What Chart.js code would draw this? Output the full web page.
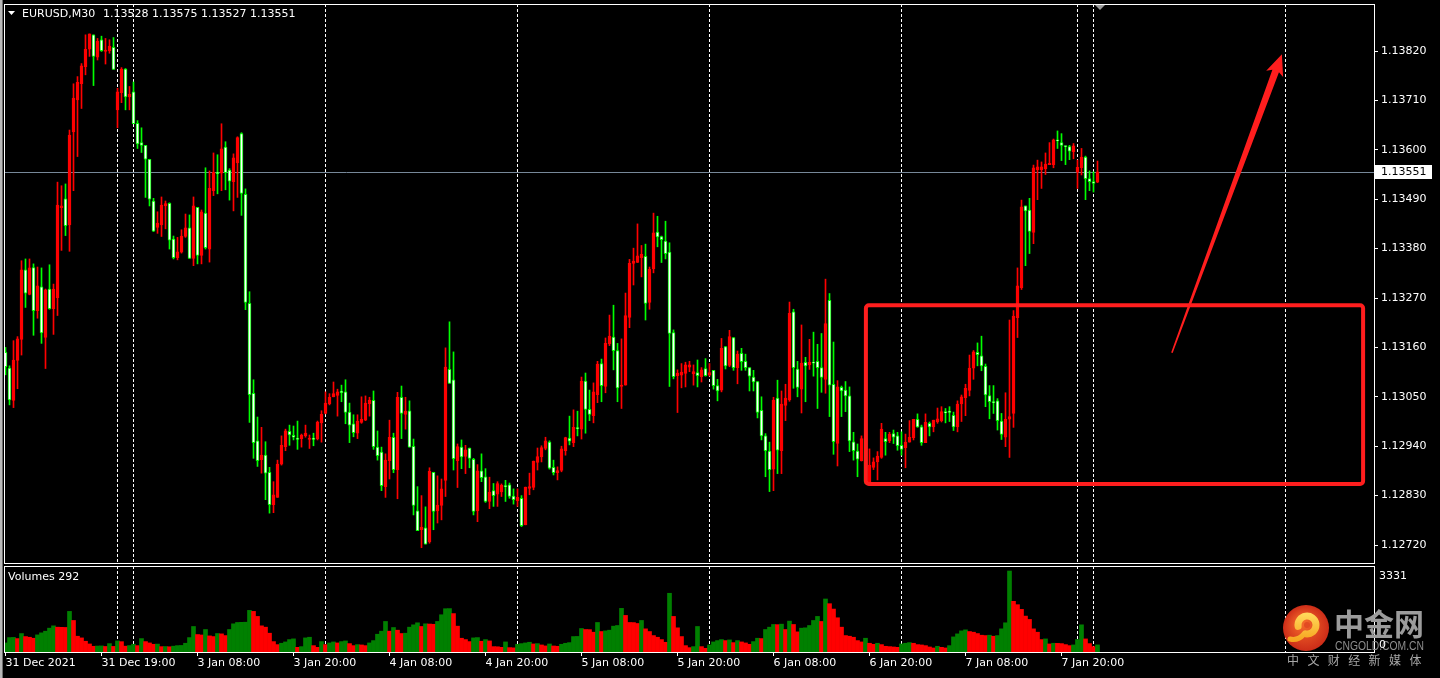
<!DOCTYPE html>
<html lang="en">
<head>
<meta charset="UTF-8" />
<title>EURUSD,M30</title>
<script src="https://cdn.jsdelivr.net/npm/chart.js"></script>
<style>
  html, body { margin: 0; padding: 0; background: #000; }
  body { width: 1440px; height: 678px; position: relative; overflow: hidden; }
  canvas { position: absolute; left: 0; top: 0; width: 1440px; height: 678px; }
</style>
</head>
<body>
<canvas id="chart-price" width="1440" height="678"></canvas>
<canvas id="chart-volume" width="1440" height="678"></canvas>
<script>
// EURUSD M30 bars (index 0 = first bar on the left)
const opens = [
  1.13149,1.13114,1.13042,1.13131,1.13178,1.13333,1.13278,1.13338,1.13242,1.13295,
  1.13182,1.13290,1.13246,1.13271,1.13471,1.13491,1.13433,1.13640,1.13711,1.13747,
  1.13785,1.13824,1.13856,1.13806,1.13845,1.13819,1.13820,1.13828,1.13689,1.13727,
  1.13780,1.13718,1.13729,1.13659,1.13616,1.13610,1.13579,1.13486,1.13427,1.13433,
  1.13475,1.13481,1.13401,1.13360,1.13372,1.13407,1.13426,1.13358,1.13472,1.13365,
  1.13459,1.13379,1.13509,1.13550,1.13548,1.13606,1.13555,1.13529,1.13571,1.13636,
  1.13501,1.13258,1.13058,1.12952,1.12910,1.12920,1.12882,1.12810,1.12826,1.12900,
  1.12939,1.12973,1.12964,1.12958,1.12957,1.12963,1.12955,1.12958,1.12956,1.12992,
  1.13013,1.13034,1.13050,1.13053,1.13063,1.13061,1.13016,1.12990,1.12969,1.12993,
  1.12998,1.13035,1.13042,1.12938,1.12927,1.12850,1.12908,1.12960,1.12888,1.13049,
  1.13011,1.13019,1.12940,1.12796,1.12754,1.12758,1.12727,1.12882,1.12796,1.12808,
  1.12864,1.13111,1.13088,1.12908,1.12938,1.12917,1.12936,1.12911,1.12796,1.12885,
  1.12872,1.12817,1.12841,1.12833,1.12838,1.12851,1.12854,1.12829,1.12818,1.12824,
  1.12765,1.12846,1.12848,1.12904,1.12916,1.12935,1.12949,1.12893,1.12881,1.12886,
  1.12930,1.12958,1.12948,1.12981,1.12978,1.13085,1.13022,1.13008,1.13055,1.13124,
  1.13073,1.13168,1.13183,1.13153,1.13073,1.13076,1.13227,1.13347,1.13349,1.13360,
  1.13363,1.13260,1.13335,1.13417,1.13407,1.13397,1.13372,1.13193,1.13097,1.13098,
  1.13102,1.13116,1.13101,1.13104,1.13095,1.13113,1.13098,1.13109,1.13075,1.13065,
  1.13162,1.13120,1.13182,1.13115,1.13147,1.13129,1.13115,1.13094,1.13084,1.13020,
  1.12963,1.12929,1.12889,1.13047,1.12930,1.13031,1.13043,1.13239,1.13112,1.13067,
  1.13127,1.13121,1.13127,1.13129,1.13115,1.13089,1.13265,1.13078,1.12946,1.13071,
  1.13065,1.13052,1.12950,1.12929,1.12908,1.12957,1.12859,1.12893,1.12905,1.12915,
  1.12957,1.12952,1.12968,1.12963,1.12942,1.12937,1.12949,1.12959,1.13000,1.12983,
  1.12948,1.12991,1.12983,1.12994,1.12997,1.13017,1.13018,1.13009,1.12983,1.13034,
  1.13048,1.13064,1.13114,1.13149,1.13141,1.13118,1.13053,1.13039,1.13041,1.12996,
  1.12960,1.13000,1.13013,1.13226,1.13293,1.13475,1.13466,1.13416,1.13556,1.13556,
  1.13558,1.13567,1.13567,1.13622,1.13616,1.13608,1.13607,1.13596,1.13550,1.13560,
  1.13584,1.13536,1.13529,1.13528
];
const highs = [
  1.13160,1.13119,1.13175,1.13184,1.13353,1.13357,1.13357,1.13346,1.13339,1.13337,
  1.13290,1.13344,1.13301,1.13528,1.13520,1.13524,1.13644,1.13747,1.13763,1.13792,
  1.13856,1.13858,1.13856,1.13848,1.13853,1.13848,1.13845,1.13850,1.13737,1.13783,
  1.13781,1.13741,1.13751,1.13665,1.13649,1.13610,1.13579,1.13492,1.13462,1.13495,
  1.13486,1.13482,1.13408,1.13405,1.13422,1.13457,1.13455,1.13495,1.13472,1.13466,
  1.13560,1.13553,1.13593,1.13589,1.13658,1.13618,1.13558,1.13591,1.13629,1.13638,
  1.13513,1.13284,1.13088,1.13005,1.12982,1.12950,1.12893,1.12861,1.12909,1.12963,
  1.12978,1.12987,1.12985,1.12996,1.12967,1.12987,1.12965,1.12969,1.12996,1.13019,
  1.13061,1.13057,1.13083,1.13067,1.13076,1.13088,1.13036,1.13010,1.13010,1.13050,
  1.13052,1.13049,1.13063,1.12974,1.12938,1.12923,1.12998,1.12969,1.13060,1.13074,
  1.13049,1.13041,1.12956,1.12850,1.12830,1.12805,1.12892,1.12882,1.12874,1.12867,
  1.13159,1.13217,1.13150,1.12945,1.12954,1.12942,1.12936,1.12913,1.12899,1.12923,
  1.12890,1.12871,1.12857,1.12861,1.12856,1.12864,1.12858,1.12845,1.12845,1.12830,
  1.12849,1.12880,1.12907,1.12936,1.12941,1.12960,1.12952,1.12909,1.12894,1.12940,
  1.12960,1.13007,1.13021,1.13018,1.13094,1.13103,1.13065,1.13081,1.13129,1.13134,
  1.13181,1.13232,1.13254,1.13169,1.13179,1.13281,1.13356,1.13381,1.13435,1.13387,
  1.13390,1.13339,1.13459,1.13452,1.13408,1.13441,1.13393,1.13199,1.13110,1.13124,
  1.13127,1.13129,1.13121,1.13132,1.13115,1.13135,1.13124,1.13109,1.13089,1.13180,
  1.13162,1.13198,1.13182,1.13152,1.13158,1.13145,1.13115,1.13109,1.13084,1.13050,
  1.12968,1.12949,1.13049,1.13087,1.13063,1.13078,1.13261,1.13245,1.13129,1.13210,
  1.13138,1.13178,1.13194,1.13167,1.13191,1.13312,1.13280,1.13172,1.13086,1.13074,
  1.13084,1.13072,1.12971,1.12945,1.12963,1.12963,1.12934,1.12914,1.12928,1.12991,
  1.12971,1.12971,1.12976,1.12971,1.12972,1.12967,1.12997,1.13000,1.13012,1.12987,
  1.13012,1.12994,1.12998,1.13025,1.13028,1.13024,1.13028,1.13016,1.13041,1.13054,
  1.13078,1.13143,1.13153,1.13170,1.13185,1.13123,1.13075,1.13075,1.13046,1.13013,
  1.13059,1.13221,1.13242,1.13337,1.13488,1.13475,1.13492,1.13566,1.13577,1.13573,
  1.13593,1.13616,1.13624,1.13642,1.13636,1.13608,1.13610,1.13614,1.13577,1.13603,
  1.13586,1.13553,1.13551,1.13575
];
const lows = [
  1.13099,1.13032,1.13026,1.13068,1.13143,1.13249,1.13277,1.13187,1.13225,1.13169,
  1.13113,1.13245,1.13189,1.13231,1.13376,1.13409,1.13374,1.13509,1.13585,1.13692,
  1.13767,1.13808,1.13743,1.13800,1.13819,1.13791,1.13815,1.13779,1.13649,1.13705,
  1.13689,1.13689,1.13658,1.13603,1.13594,1.13494,1.13475,1.13418,1.13414,1.13407,
  1.13424,1.13379,1.13357,1.13355,1.13370,1.13405,1.13358,1.13342,1.13346,1.13346,
  1.13379,1.13350,1.13498,1.13502,1.13509,1.13511,1.13488,1.13464,1.13494,1.13454,
  1.13244,1.12993,1.12913,1.12895,1.12880,1.12821,1.12791,1.12792,1.12826,1.12898,
  1.12930,1.12942,1.12954,1.12933,1.12938,1.12960,1.12935,1.12941,1.12954,1.12949,
  1.13012,1.13032,1.13050,1.13007,1.13039,1.12990,1.12948,1.12961,1.12957,1.12991,
  1.12997,1.13007,1.12933,1.12909,1.12841,1.12826,1.12867,1.12881,1.12823,1.12957,
  1.12978,1.12938,1.12787,1.12752,1.12714,1.12722,1.12724,1.12754,1.12769,1.12776,
  1.12828,1.13080,1.12887,1.12848,1.12890,1.12879,1.12892,1.12787,1.12772,1.12861,
  1.12815,1.12801,1.12806,1.12806,1.12828,1.12817,1.12824,1.12811,1.12806,1.12761,
  1.12765,1.12832,1.12843,1.12887,1.12905,1.12932,1.12889,1.12876,1.12865,1.12883,
  1.12920,1.12943,1.12939,1.12963,1.12956,1.12969,1.12997,1.12992,1.13037,1.13039,
  1.13059,1.13164,1.13110,1.13039,1.13024,1.13076,1.13204,1.13299,1.13349,1.13317,
  1.13221,1.13245,1.13326,1.13384,1.13349,1.13357,1.13073,1.13090,1.13015,1.13070,
  1.13072,1.13106,1.13076,1.13072,1.13083,1.13096,1.13096,1.13067,1.13041,1.13061,
  1.13112,1.13117,1.13109,1.13079,1.13109,1.13109,1.13063,1.13063,1.13003,1.12954,
  1.12872,1.12839,1.12841,1.12879,1.12879,1.12997,1.13040,1.13069,1.13050,1.13014,
  1.13039,1.13111,1.13096,1.13024,1.13060,1.13058,1.13006,1.12922,1.12896,1.13006,
  1.13017,1.12928,1.12909,1.12872,1.12907,1.12857,1.12853,1.12888,1.12865,1.12913,
  1.12920,1.12948,1.12946,1.12931,1.12920,1.12892,1.12949,1.12954,1.12982,1.12942,
  1.12948,1.12963,1.12972,1.12991,1.12994,1.12992,1.12995,1.12975,1.12972,1.12995,
  1.13008,1.13052,1.13089,1.13119,1.13108,1.13028,1.13001,1.13013,1.12976,1.12955,
  1.12939,1.12915,1.12982,1.13182,1.13289,1.13342,1.13369,1.13391,1.13489,1.13514,
  1.13545,1.13567,1.13560,1.13603,1.13576,1.13567,1.13578,1.13580,1.13514,1.13544,
  1.13489,1.13509,1.13506,1.13527
];
const closes = [
  1.13117,1.13043,1.13132,1.13179,1.13333,1.13281,1.13337,1.13242,1.13297,1.13192,
  1.13288,1.13246,1.13290,1.13477,1.13475,1.13431,1.13633,1.13715,1.13750,1.13787,
  1.13824,1.13858,1.13808,1.13842,1.13821,1.13822,1.13831,1.13779,1.13729,1.13780,
  1.13718,1.13724,1.13658,1.13613,1.13610,1.13579,1.13490,1.13419,1.13437,1.13477,
  1.13480,1.13399,1.13360,1.13373,1.13408,1.13426,1.13358,1.13475,1.13365,1.13462,
  1.13382,1.13514,1.13550,1.13547,1.13602,1.13549,1.13530,1.13582,1.13627,1.13503,
  1.13260,1.13055,1.12948,1.12908,1.12920,1.12880,1.12810,1.12832,1.12900,1.12942,
  1.12974,1.12965,1.12960,1.12955,1.12965,1.12969,1.12958,1.12955,1.12994,1.13011,
  1.13036,1.13049,1.13057,1.13061,1.13059,1.13015,1.12987,1.12970,1.12996,1.13000,
  1.13036,1.13043,1.12939,1.12919,1.12852,1.12909,1.12960,1.12888,1.13049,1.13013,
  1.13018,1.12938,1.12808,1.12752,1.12760,1.12722,1.12884,1.12795,1.12809,1.12845,
  1.13116,1.13080,1.12912,1.12939,1.12916,1.12932,1.12913,1.12795,1.12885,1.12870,
  1.12817,1.12838,1.12830,1.12857,1.12853,1.12850,1.12828,1.12821,1.12826,1.12763,
  1.12849,1.12850,1.12907,1.12917,1.12937,1.12952,1.12891,1.12881,1.12886,1.12934,
  1.12959,1.12951,1.12982,1.12979,1.13085,1.13022,1.13011,1.13061,1.13123,1.13075,
  1.13169,1.13185,1.13153,1.13070,1.13076,1.13231,1.13347,1.13352,1.13364,1.13367,
  1.13258,1.13334,1.13415,1.13406,1.13400,1.13369,1.13191,1.13095,1.13103,1.13105,
  1.13121,1.13121,1.13106,1.13097,1.13110,1.13097,1.13104,1.13075,1.13063,1.13158,
  1.13119,1.13184,1.13115,1.13145,1.13128,1.13115,1.13096,1.13083,1.13015,1.12963,
  1.12930,1.12888,1.13043,1.12931,1.13034,1.13047,1.13236,1.13115,1.13071,1.13125,
  1.13119,1.13127,1.13125,1.13115,1.13093,1.13213,1.13076,1.12950,1.13072,1.13063,
  1.13052,1.12952,1.12930,1.12911,1.12957,1.12861,1.12898,1.12905,1.12918,1.12978,
  1.12950,1.12967,1.12960,1.12941,1.12933,1.12949,1.12960,1.13000,1.12983,1.12948,
  1.12993,1.12983,1.12998,1.13001,1.13017,1.13014,1.13015,1.12983,1.13034,1.13050,
  1.13069,1.13114,1.13150,1.13144,1.13119,1.13054,1.13039,1.13037,1.12997,1.12966,
  1.13000,1.13006,1.13230,1.13297,1.13473,1.13464,1.13418,1.13560,1.13562,1.13562,
  1.13568,1.13570,1.13622,1.13620,1.13610,1.13607,1.13597,1.13609,1.13561,1.13584,
  1.13536,1.13529,1.13525,1.13551
];
const volumes = [
  373,593,600,552,759,635,607,566,704,787,
  856,980,1076,1021,1015,1010,1670,1297,649,580,
  442,331,235,245,250,228,345,230,455,425,
  240,265,320,262,552,428,373,318,325,220,
  225,215,240,262,270,360,593,1049,718,700,
  925,662,635,759,745,676,925,1159,1214,1220,
  1225,1711,1670,1463,1076,1021,773,428,304,359,
  414,511,540,193,221,580,607,262,193,428,
  304,373,414,373,428,455,345,262,304,290,
  262,373,469,731,856,1256,856,1007,897,760,
  773,1021,1118,1201,1049,1159,1150,1140,1256,1532,
  1780,1785,1580,1063,566,511,428,580,593,442,
  511,455,221,215,193,414,180,170,318,345,
  373,400,331,345,290,250,330,248,235,317,
  359,386,635,640,966,925,920,814,1214,842,
  869,897,1063,1090,1794,1504,1214,1210,1173,1297,
  952,842,676,607,511,400,2415,1463,994,635,
  262,179,221,1049,221,152,290,414,469,511,
  469,497,386,469,414,373,317,428,566,552,
  925,1021,1132,1125,1145,925,1270,1132,828,980,
  994,1090,1297,1463,1256,2180,1987,1766,1408,1021,
  676,649,607,469,414,566,359,317,359,304,
  235,221,207,193,331,359,386,359,304,290,
  262,207,166,235,193,166,262,621,745,869,
  911,842,814,759,690,676,690,649,676,952,
  1201,3331,2084,1946,1753,1477,1339,952,814,511,
  538,331,359,355,345,304,262,290,511,1118,
  538,345,221,292
];

const priceTicks = [1.13820, 1.13710, 1.13600, 1.13490, 1.13380, 1.13270, 1.13160, 1.13050, 1.12940, 1.12830, 1.12720];
const timeTickBars = [0, 24, 48, 72, 96, 120, 144, 168, 192, 216, 240, 264];
const timeLabels = ['31 Dec 2021', '31 Dec 19:00', '3 Jan 08:00', '3 Jan 20:00', '4 Jan 08:00', '4 Jan 20:00',
                    '5 Jan 08:00', '5 Jan 20:00', '6 Jan 08:00', '6 Jan 20:00', '7 Jan 08:00', '7 Jan 20:00'];
const separatorBars = [28, 32, 80, 128, 176, 224, 268, 272, 320];

// hand drawn marks: box (bar range, price range) and the arrow (bar, price) -> (bar, price)
const boxBars = [215.1, 339.4];
const boxPrices = [1.13254, 1.12856];
const arrowFrom = [291.6, 1.13148];
const arrowTo = [319.1, 1.13813];

const RED = '#ff0000', LIME = '#00ff00', VOL_GREEN = '#008000';
const X_MIN = -0.375, X_MAX = 342.125;
const P_MIN = 1.1267996, P_MAX = 1.1392466;
const VOL_MAX = 3537;

Chart.defaults.font.family = "'DejaVu Sans', sans-serif";
Chart.defaults.font.size = 11;
Chart.defaults.color = '#ffffff';

const idx = opens.map((o, i) => i);
const isUp = i => closes[i] >= opens[i];
const lastBar = closes.length - 1;

function drawSeparators(chart) {
  const { ctx, chartArea: a, scales: { x } } = chart;
  ctx.save();
  ctx.beginPath(); ctx.rect(a.left, a.top, a.width, a.height); ctx.clip();
  ctx.strokeStyle = '#ffffff'; ctx.lineWidth = 1; ctx.setLineDash([3, 2]);
  separatorBars.forEach(b => {
    const px = Math.floor(x.getPixelForValue(b)) + 0.5;
    ctx.beginPath(); ctx.moveTo(px, a.top); ctx.lineTo(px, a.bottom); ctx.stroke();
  });
  ctx.restore();
}

function drawFrame(chart) {
  const { ctx, chartArea: a } = chart;
  ctx.save();
  ctx.strokeStyle = '#ffffff'; ctx.lineWidth = 1;
  ctx.strokeRect(a.left + 0.5, a.top + 0.5, a.width, a.height);
  ctx.restore();
}

const priceOverlay = {
  id: 'priceOverlay',
  beforeDatasetsDraw(chart) {
    const { ctx, chartArea: a, scales: { y } } = chart;
    drawSeparators(chart);
    // bid line
    const py = Math.round(y.getPixelForValue(closes[lastBar])) + 0.5;
    ctx.save();
    ctx.strokeStyle = '#778899'; ctx.lineWidth = 1;
    ctx.beginPath(); ctx.moveTo(a.left, py); ctx.lineTo(a.right, py); ctx.stroke();
    ctx.restore();
  },
  afterDraw(chart) {
    const { ctx, chartArea: a, scales: { x, y } } = chart;
    drawFrame(chart);

    // header
    ctx.save();
    ctx.fillStyle = '#ffffff';
    ctx.beginPath(); ctx.moveTo(8, 11); ctx.lineTo(15, 11); ctx.lineTo(11.5, 15); ctx.closePath(); ctx.fill();
    ctx.font = "11px 'DejaVu Sans'"; ctx.textBaseline = 'middle'; ctx.textAlign = 'left';
    ctx.fillText('EURUSD,M30', 22, 14);
    ctx.fillText([opens[lastBar], highs[lastBar], lows[lastBar], closes[lastBar]].map(v => v.toFixed(5)).join(' '), 103, 14);

    // chart shift marker
    const sx = Math.round(x.getPixelForValue(lastBar + 0.6));
    ctx.fillStyle = '#9a9a9a';
    ctx.beginPath(); ctx.moveTo(sx - 5, a.top + 1); ctx.lineTo(sx + 5, a.top + 1); ctx.lineTo(sx, a.top + 6); ctx.closePath(); ctx.fill();

    // red box
    const rx1 = x.getPixelForValue(boxBars[0]), rx2 = x.getPixelForValue(boxBars[1]);
    const ry1 = y.getPixelForValue(boxPrices[0]), ry2 = y.getPixelForValue(boxPrices[1]);
    ctx.strokeStyle = '#ff1e1e'; ctx.lineWidth = 4; ctx.lineJoin = 'round';
    ctx.beginPath();
    if (ctx.roundRect) ctx.roundRect(rx1, ry1, rx2 - rx1, ry2 - ry1, 3); else ctx.rect(rx1, ry1, rx2 - rx1, ry2 - ry1);
    ctx.stroke();

    // red arrow
    const tx = x.getPixelForValue(arrowFrom[0]), ty = y.getPixelForValue(arrowFrom[1]);
    const hx = x.getPixelForValue(arrowTo[0]), hy = y.getPixelForValue(arrowTo[1]);
    const len = Math.hypot(hx - tx, hy - ty);
    const ux = (hx - tx) / len, uy = (hy - ty) / len, nx = -uy, ny = ux;
    const headLen = 18, headHalf = 9, shaftEnd = 3.5, shaftStart = 0.8;
    const bx = hx - ux * headLen, by = hy - uy * headLen;
    const wx = hx - ux * (headLen + 3), wy = hy - uy * (headLen + 3);
    ctx.fillStyle = '#ff1e1e';
    ctx.beginPath();
    ctx.moveTo(tx + nx * shaftStart, ty + ny * shaftStart);
    ctx.lineTo(bx + nx * shaftEnd, by + ny * shaftEnd);
    ctx.lineTo(wx + nx * headHalf, wy + ny * headHalf);
    ctx.lineTo(hx, hy);
    ctx.lineTo(wx - nx * headHalf, wy - ny * headHalf);
    ctx.lineTo(bx - nx * shaftEnd, by - ny * shaftEnd);
    ctx.lineTo(tx - nx * shaftStart, ty - ny * shaftStart);
    ctx.closePath(); ctx.fill();

    // current price label
    const py = Math.round(y.getPixelForValue(closes[lastBar]));
    ctx.fillStyle = '#ffffff';
    ctx.fillRect(a.right + 1, py - 7, 57, 14);
    ctx.fillStyle = '#000000';
    ctx.font = "11px 'DejaVu Sans'"; ctx.textBaseline = 'middle';
    ctx.fillText(closes[lastBar].toFixed(5), a.right + 7, py + 0.5);
    ctx.restore();
  }
};

function drawLogo(ctx) {
  const cx = 1306, cy = 628, r = 23;
  ctx.save();
  const g = ctx.createRadialGradient(cx - 4, cy - 6, 3, cx, cy, r);
  g.addColorStop(0, '#f3672a'); g.addColorStop(1, '#cc2c18');
  ctx.fillStyle = g;
  ctx.beginPath(); ctx.arc(cx, cy, r, 0, Math.PI * 2); ctx.fill();
  const sg = ctx.createLinearGradient(cx, cy - 14, cx, cy + 14);
  sg.addColorStop(0, '#ffd85a'); sg.addColorStop(1, '#f6a21c');
  ctx.strokeStyle = sg; ctx.lineCap = 'round';
  ctx.lineWidth = 7;
  ctx.beginPath(); ctx.arc(cx + 1, cy - 3, 9, Math.PI * 0.95, Math.PI * 2.55); ctx.stroke();
  ctx.lineWidth = 5;
  ctx.beginPath(); ctx.moveTo(cx - 2, cy + 6); ctx.quadraticCurveTo(cx - 8, cy + 13, cx - 16, cy + 11); ctx.stroke();
  ctx.fillStyle = '#e24a22';
  ctx.beginPath(); ctx.arc(cx + 1, cy - 3, 3, 0, Math.PI * 2); ctx.fill();

  ctx.fillStyle = '#9c9c9c';
  ctx.font = "bold 30px 'Noto Sans CJK SC'"; ctx.textBaseline = 'middle'; ctx.textAlign = 'left';
  ctx.fillText('中金网', 1334, 624);
  ctx.fillStyle = '#8e8e8e';
  ctx.font = "12px 'Liberation Sans'";
  ctx.fillText('CNGOLD.COM.CN', 1335, 647, 89);
  ctx.fillStyle = '#a8a8a8';
  ctx.font = "12px 'Noto Sans CJK SC'";
  [...'中文财经新媒体'].forEach((ch, k) => ctx.fillText(ch, 1287 + k * 20.4, 660));
  ctx.restore();
}

const volumeOverlay = {
  id: 'volumeOverlay',
  beforeDatasetsDraw(chart) { drawSeparators(chart); },
  afterDraw(chart) {
    const { ctx, chartArea: a, scales: { y } } = chart;
    drawFrame(chart);
    ctx.save();
    ctx.fillStyle = '#ffffff';
    ctx.font = "11px 'DejaVu Sans'"; ctx.textBaseline = 'middle'; ctx.textAlign = 'left';
    ctx.fillText('Volumes ' + volumes[lastBar], 8, a.top + 11);
    const vmax = Math.max(...volumes);
    ctx.fillText(String(vmax), a.right + 5, y.getPixelForValue(vmax) + 5);
    // window edge on the left
    ctx.fillStyle = '#b8b8b8'; ctx.fillRect(0, 0, 2, 678);
    ctx.fillStyle = '#6e6e6e'; ctx.fillRect(2, 0, 1, 678);
    drawLogo(ctx);
    ctx.fillStyle = '#ffffff';
    ctx.font = "11px 'DejaVu Sans'";
    ctx.fillText('0', a.right + 5, a.bottom - 7);
    ctx.restore();
  }
};

new Chart(document.getElementById('chart-price'), {
  type: 'bar',
  data: {
    datasets: [
      {
        label: 'body', order: 0,
        data: idx.map(i => ({ x: i, y: [opens[i], closes[i]] })),
        barThickness: 3, minBarLength: 1, borderWidth: 1, borderSkipped: false,
        backgroundColor: idx.map(i => isUp(i) ? RED : '#ffffff'),
        borderColor: idx.map(i => isUp(i) ? RED : LIME)
      },
      {
        label: 'wick', order: 1,
        data: idx.map(i => ({ x: i, y: [lows[i], highs[i]] })),
        barThickness: 1, minBarLength: 1, borderWidth: 0,
        backgroundColor: idx.map(i => isUp(i) ? RED : LIME)
      }
    ]
  },
  options: {
    responsive: false, animation: false, events: [],
    layout: { padding: { left: 4, top: 4, right: 0, bottom: 115 } },
    datasets: { bar: { grouped: false } },
    plugins: { legend: { display: false }, tooltip: { enabled: false } },
    scales: {
      x: { type: 'linear', display: false, min: X_MIN, max: X_MAX, offset: false },
      y: {
        position: 'right', min: P_MIN, max: P_MAX, beginAtZero: false,
        afterBuildTicks: s => { s.ticks = priceTicks.map(v => ({ value: v })); },
        afterFit: s => { s.width = 66; s.paddingTop = 0; s.paddingBottom = 0; },
        grid: { drawOnChartArea: false, drawTicks: true, tickLength: 4, color: '#ffffff', offset: false },
        border: { display: false },
        ticks: { color: '#ffffff', padding: 3, autoSkip: false, callback: v => Number(v).toFixed(5) }
      }
    }
  },
  plugins: [priceOverlay]
});

new Chart(document.getElementById('chart-volume'), {
  type: 'bar',
  data: {
    datasets: [{
      label: 'Volumes',
      data: idx.map(i => ({ x: i, y: volumes[i] })),
      barThickness: 4, borderWidth: 0,
      backgroundColor: idx.map(i => (i === 0 || volumes[i] > volumes[i - 1]) ? VOL_GREEN : RED)
    }]
  },
  options: {
    responsive: false, animation: false, events: [],
    layout: { padding: { left: 4, top: 566, right: 0, bottom: 0 } },
    datasets: { bar: { grouped: false } },
    plugins: { legend: { display: false }, tooltip: { enabled: false } },
    scales: {
      x: {
        type: 'linear', position: 'bottom', min: X_MIN, max: X_MAX, offset: false,
        afterBuildTicks: s => { s.ticks = timeTickBars.map(v => ({ value: v })); },
        afterFit: s => { s.height = 26; s.paddingLeft = 0; s.paddingRight = 0; },
        grid: { drawOnChartArea: false, drawTicks: true, tickLength: 4, color: '#ffffff', offset: false },
        border: { display: false },
        ticks: { color: '#ffffff', align: 'start', padding: 1, maxRotation: 0, autoSkip: false,
                 callback: (v, k) => timeLabels[k] }
      },
      y: {
        position: 'right', min: 0, max: VOL_MAX,
        afterFit: s => { s.width = 66; s.paddingTop = 0; s.paddingBottom = 0; },
        grid: { display: false }, border: { display: false }, ticks: { display: false }
      }
    }
  },
  plugins: [volumeOverlay]
});
</script>
</body>
</html>
